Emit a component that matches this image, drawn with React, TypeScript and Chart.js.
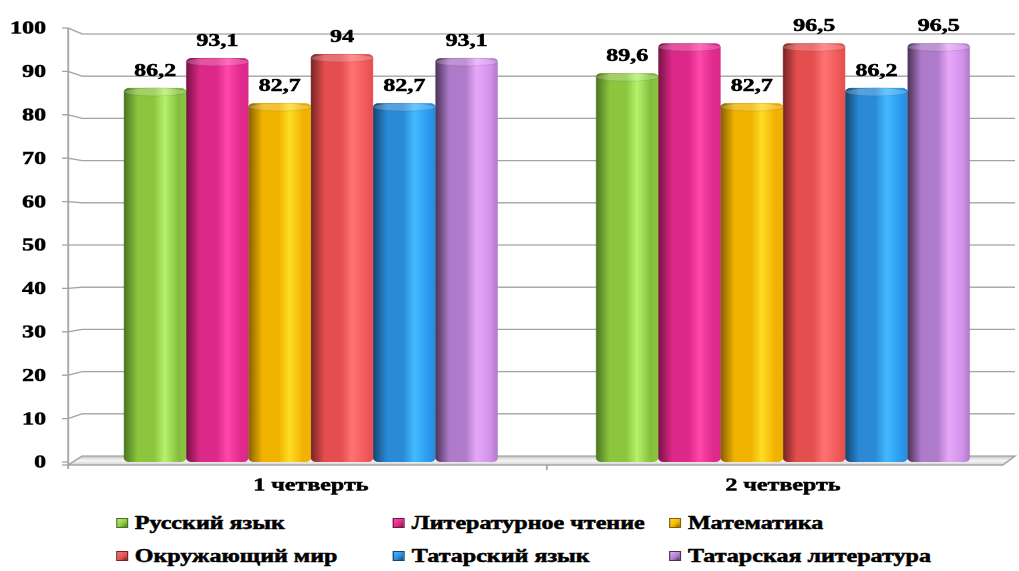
import React, { useEffect, useRef } from "react";
import { Chart, registerables } from "chart.js";

Chart.register(...registerables);

// ---------- data ----------
const categories = ["1 четверть", "2 четверть"];
const seriesNames = [
  "Русский язык",
  "Литературное чтение",
  "Математика",
  "Окружающий мир",
  "Татарский язык",
  "Татарская литература",
];
const russianLang = [86.2, 89.6];
const literaryReading = [93.1, 96.5];
const mathematics = [82.7, 82.7];
const worldAround = [94, 96.5];
const tatarLang = [82.7, 86.2];
const tatarLit = [93.1, 96.5];
const yTickValues = [0, 10, 20, 30, 40, 50, 60, 70, 80, 90, 100];
// labels that are not shown in the reference: [datasetIndex, dataIndex]
const hiddenLabels = [[1, 1]];

// ---------- styles ----------
const palette = [
  { dark: "#4a7520", base: "#8cc63f", light: "#b6f26c", edge: "#84bd3e" },
  { dark: "#761343", base: "#dc2888", light: "#ff48aa", edge: "#e02a8e" },
  { dark: "#876000", base: "#efb300", light: "#ffdc24", edge: "#f2b100" },
  { dark: "#772424", base: "#e44e4e", light: "#ff7373", edge: "#f25a5a" },
  { dark: "#154670", base: "#2a8ad6", light: "#42baff", edge: "#2c9cf0" },
  { dark: "#4b3256", base: "#ae7aca", light: "#e8a8f8", edge: "#d292ea" },
];

const S = 1.3355; // horizontal stretch of the whole picture
const W = 763;
const H_CHART = 500;
const FONT_FAMILY = '"Liberation Serif", "Times New Roman", serif';
const FONT = `bold 18px ${FONT_FAMILY}`;
const GRID = "#a3a3a3";

const fmt = (v: number) => String(v).replace(".", ",");

function barGradient(ctx: CanvasRenderingContext2D, x: number, w: number, c: any) {
  const g = ctx.createLinearGradient(x - w / 2, 0, x + w / 2, 0);
  g.addColorStop(0, c.dark);
  g.addColorStop(0.22, c.base);
  g.addColorStop(0.48, c.base);
  g.addColorStop(0.66, c.light);
  g.addColorStop(0.88, c.edge);
  g.addColorStop(1, c.base);
  return g;
}

function heavyText(ctx: CanvasRenderingContext2D, t: string, x: number, y: number) {
  ctx.fillText(t, x, y);
  ctx.strokeText(t, x, y);
}

const decorPlugin = {
  id: "decor",
  beforeDatasetsDraw(chart: any) {
    const { ctx, chartArea, scales } = chart;
    const y = scales.y;
    const x = scales.x;
    const axisX = chartArea.left - 5;
    const tickX = axisX - 4.5;
    const backX = axisX + 10.5;
    const backRight = chartArea.right - 3;
    const frontRight = backRight - 9;
    const y0 = y.getPixelForValue(0);
    const off = (v: number) => (v - 50) * 0.12;

    ctx.save();
    // floor
    const fy = y0 + 3;
    const by = y0 + off(0);
    const fg = ctx.createLinearGradient(0, by, 0, fy);
    fg.addColorStop(0, "#c4c4c4");
    fg.addColorStop(0.5, "#f6f6f6");
    fg.addColorStop(1, "#d4d4d4");
    ctx.beginPath();
    ctx.moveTo(axisX, fy);
    ctx.lineTo(backX, by);
    ctx.lineTo(backRight, by);
    ctx.lineTo(frontRight, fy);
    ctx.closePath();
    ctx.fillStyle = fg;
    ctx.fill();
    ctx.strokeStyle = GRID;
    ctx.lineWidth = 1.3;
    ctx.stroke();

    // grid lines with perspective kink
    ctx.strokeStyle = GRID;
    ctx.lineWidth = 1.3;
    yTickValues.forEach((v) => {
      const py = y.getPixelForValue(v);
      ctx.beginPath();
      ctx.moveTo(tickX, py);
      ctx.lineTo(axisX, py);
      if (v > 0) {
        ctx.lineTo(backX, py + off(v));
        ctx.lineTo(backRight, py + off(v));
      }
      ctx.stroke();
    });

    // vertical axis
    ctx.beginPath();
    ctx.moveTo(axisX, y.getPixelForValue(100));
    ctx.lineTo(axisX, fy + 4);
    ctx.stroke();
    // front x axis
    ctx.beginPath();
    ctx.moveTo(tickX, fy);
    ctx.lineTo(frontRight, fy);
    ctx.stroke();
    // middle tick
    const mid = (x.getPixelForValue(0) + x.getPixelForValue(1)) / 2;
    ctx.beginPath();
    ctx.moveTo(mid, fy);
    ctx.lineTo(mid, fy + 5);
    ctx.stroke();

    // y tick labels
    ctx.fillStyle = "#000";
    ctx.strokeStyle = "#000";
    ctx.lineWidth = 0.5;
    ctx.font = FONT;
    ctx.textAlign = "right";
    ctx.textBaseline = "middle";
    yTickValues.forEach((v) => {
      heavyText(ctx, String(v), axisX - 16.5, y.getPixelForValue(v) + 1);
    });

    // category labels
    ctx.textAlign = "center";
    categories.forEach((c, i) => {
      heavyText(ctx, c, x.getPixelForValue(i), y0 + 24);
    });
    ctx.restore();

    // bar gradients
    chart.data.datasets.forEach((ds: any, di: number) => {
      const meta = chart.getDatasetMeta(di);
      meta.data.forEach((el: any) => {
        if (el.options) el.options.backgroundColor = barGradient(ctx, el.x, el.width, palette[di]);
      });
    });
  },
  afterDatasetsDraw(chart: any) {
    const { ctx } = chart;
    ctx.save();
    chart.data.datasets.forEach((ds: any, di: number) => {
      const meta = chart.getDatasetMeta(di);
      meta.data.forEach((el: any, i: number) => {
        const rx = el.width / 2;
        const ry = 4;
        ctx.beginPath();
        ctx.ellipse(el.x, el.y + ry, rx, ry, 0, 0, Math.PI * 2);
        ctx.fillStyle = barGradient(ctx, el.x, el.width, palette[di]);
        ctx.fill();
        ctx.fillStyle = "rgba(255,255,255,0.2)";
        ctx.fill();
        ctx.strokeStyle = "rgba(0,0,0,0.12)";
        ctx.lineWidth = 0.8;
        ctx.stroke();

        const hidden = hiddenLabels.some(([d, k]) => d === di && k === i);
        if (!hidden) {
          ctx.fillStyle = "#000";
          ctx.strokeStyle = "#000";
          ctx.lineWidth = 0.5;
          ctx.font = FONT;
          ctx.textAlign = "center";
          ctx.textBaseline = "alphabetic";
          heavyText(ctx, fmt(ds.data[i]), el.x, el.y - 12);
        }
      });
    });
    ctx.restore();
  },
};

export default function App() {
  const canvasRef = useRef<HTMLCanvasElement | null>(null);

  useEffect(() => {
    if (!canvasRef.current) return;
    const series = [russianLang, literaryReading, mathematics, worldAround, tatarLang, tatarLit];
    const chart = new Chart(canvasRef.current, {
      type: "bar",
      data: {
        labels: categories,
        datasets: series.map((d, i) => ({
          label: seriesNames[i],
          data: d,
          backgroundColor: () => palette[i].base,
          borderWidth: 0,
          borderRadius: 4,
          borderSkipped: false,
          barPercentage: 1,
          categoryPercentage: 0.792,
        })),
      },
      options: {
        animation: false,
        responsive: false,
        devicePixelRatio: 2,
        layout: { padding: { left: 56, right: 0, top: 28, bottom: 38 } },
        scales: {
          x: { display: false },
          y: { display: false, min: 0, max: 100 },
        },
        plugins: {
          legend: { display: false },
          tooltip: { enabled: false },
        },
      },
      plugins: [decorPlugin],
    });
    return () => chart.destroy();
  }, []);

  const colX = [86.9, 294.4, 501.1];
  const rowY = [523, 556];

  return (
    <div
      style={{
        position: "fixed",
        left: 0,
        top: 0,
        width: W,
        height: 571,
        background: "#fff",
        transform: `scaleX(${S})`,
        transformOrigin: "0 0",
      }}
    >
      <canvas ref={canvasRef} width={W} height={H_CHART} style={{ width: W, height: H_CHART, display: "block" }} />
      {seriesNames.map((name, i) => {
        const c = palette[i];
        const col = i % 3;
        const row = Math.floor(i / 3);
        return (
          <div
            key={name}
            style={{
              position: "absolute",
              left: colX[col],
              top: rowY[row] - 12,
              height: 24,
              display: "flex",
              alignItems: "center",
              whiteSpace: "nowrap",
              font: FONT,
              color: "#000",
              WebkitTextStroke: "0.5px #000",
            }}
          >
            <span
              style={{
                display: "inline-block",
                width: 9,
                height: 10,
                boxSizing: "border-box",
                border: `1px solid ${c.dark}`,
                background: `linear-gradient(135deg, ${c.light}, ${c.base} 60%, ${c.dark})`,
                marginRight: 5,
              }}
            />
            <span>{name}</span>
          </div>
        );
      })}
    </div>
  );
}
